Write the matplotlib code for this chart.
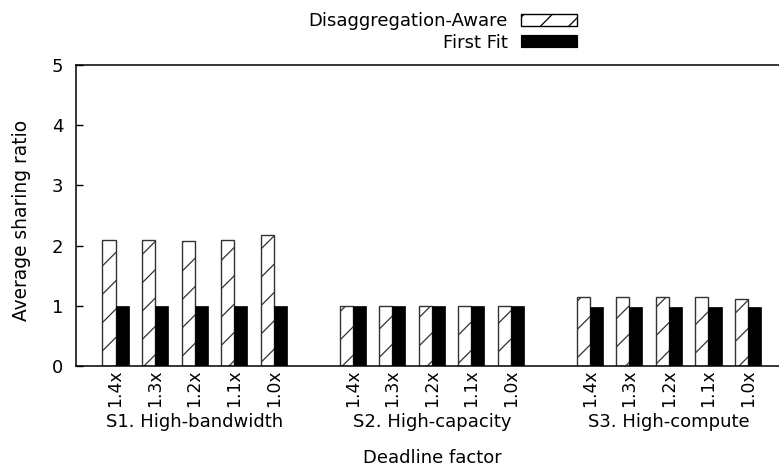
import matplotlib
matplotlib.use("Agg")
import matplotlib.pyplot as plt
from matplotlib.patches import Patch
from matplotlib.transforms import blended_transform_factory

DPI = 85
k = 100.0 / DPI  # keep sizes as if drawn at 100 dpi; dpi controls hatch spacing

plt.rcParams['font.family'] = ['DejaVu Sans']
plt.rcParams['hatch.linewidth'] = 0.9 * k

groups = ["S1. High-bandwidth", "S2. High-capacity", "S3. High-compute"]
factors = ["1.4x", "1.3x", "1.2x", "1.1x", "1.0x"]
disagg = [
    [2.10, 2.10, 2.07, 2.10, 2.17],
    [1.00, 1.00, 1.00, 1.00, 1.00],
    [1.14, 1.14, 1.14, 1.14, 1.12],
]
firstfit = [
    [1.00, 1.00, 1.00, 1.00, 1.00],
    [1.00, 1.00, 1.00, 1.00, 1.00],
    [0.98, 0.98, 0.98, 0.98, 0.98],
]

FS = 13 * k
W, H = 779, 468
fig = plt.figure(figsize=((W + 0.01) / DPI, (H + 0.01) / DPI), dpi=DPI)
ax_left, ax_bottom, ax_top = 76, 366, 65
ax = fig.add_axes([ax_left / W, 1 - ax_bottom / H, (W - ax_left + 1) / W, (ax_bottom - ax_top) / H])

positions = []
labels = []
for g in range(len(groups)):
    for i in range(len(factors)):
        positions.append(g * 6 + i)
        labels.append(factors[i])

dvals = [v for row in disagg for v in row]
fvals = [v for row in firstfit for v in row]
bw = 0.33
ax.bar([p - bw / 2 for p in positions], dvals, width=bw, color='white',
       edgecolor='#333333', linewidth=1.0 * k, hatch='/')
ax.bar([p + bw / 2 for p in positions], fvals, width=bw, color='black',
       edgecolor='black', linewidth=0.5 * k)

ax.set_xlim(-1, -1 + (W - ax_left + 0.5) / 39.5)
ax.set_ylim(0, 5)
ax.set_yticks([0, 1, 2, 3, 4, 5])
ax.set_xticks(positions)
ax.set_xticklabels(labels, rotation=90, fontsize=12.3 * k)
ax.tick_params(axis='x', length=0, pad=2.5 * k)
ax.tick_params(axis='y', direction='in', length=5 * k, width=1.0 * k, labelsize=FS, pad=9 * k)
ax.spines['right'].set_visible(False)
for s in ax.spines.values():
    s.set_linewidth(1.1 * k)

tr = blended_transform_factory(ax.transData, ax.transAxes)
for g, name in enumerate(groups):
    ax.text(g * 6 + 2, -0.185, name, transform=tr, ha='center', va='center', fontsize=FS)

fig.text(432 / W, 1 - 458 / H, "Deadline factor", ha='center', va='center', fontsize=FS)
fig.text(21 / W, 1 - 220 / H, "Average sharing ratio", ha='center', va='center',
         rotation=90, fontsize=13.4 * k)

handles = [Patch(facecolor='white', edgecolor='black', hatch='/', linewidth=1.0 * k),
           Patch(facecolor='black', edgecolor='black')]
fig.legend(handles, ["Disaggregation-Aware", "First Fit"], loc='upper right',
           bbox_to_anchor=(577 / W, 1 - 12 / H), frameon=False, markerfirst=False,
           fontsize=FS, handlelength=3.1, handleheight=0.65, labelspacing=0.2,
           handletextpad=0.75, borderpad=0, borderaxespad=0)

fig.savefig("out.png", dpi=DPI)
